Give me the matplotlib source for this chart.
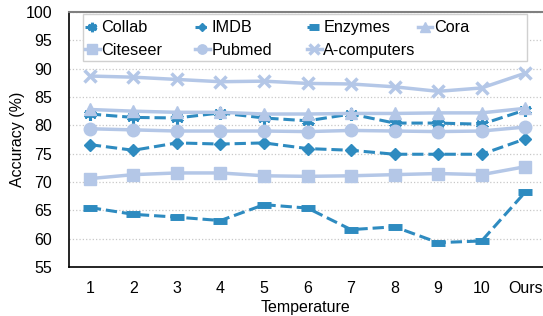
import numpy as np
import matplotlib.pyplot as plt
from matplotlib.legend import Legend
from matplotlib.patches import Rectangle

plt.rcParams['font.family'] = ['Liberation Sans', 'DejaVu Sans']

labels = ['1', '2', '3', '4', '5', '6', '7', '8', '9', '10', 'Ours']

collab = [82.0, 81.4, 81.3, 82.2, 81.3, 80.8, 82.0, 80.4, 80.4, 80.2, 82.7]
imdb = [76.6, 75.6, 76.9, 76.7, 76.9, 75.9, 75.6, 74.9, 74.9, 74.9, 77.6]
enzymes = [65.5, 64.3, 63.8, 63.2, 66.0, 65.4, 61.6, 62.1, 59.3, 59.6, 68.2]
cora = [82.8, 82.5, 82.3, 82.3, 82.0, 82.0, 82.1, 82.1, 82.2, 82.2, 83.0]
citeseer = [70.6, 71.3, 71.6, 71.6, 71.1, 71.0, 71.1, 71.3, 71.5, 71.3, 72.7]
pubmed = [79.4, 79.2, 79.0, 79.0, 79.0, 78.9, 79.1, 79.0, 78.9, 79.0, 79.7]
acomp = [88.7, 88.5, 88.1, 87.7, 87.8, 87.4, 87.3, 86.8, 86.0, 86.6, 89.2]

dark = '#2E8BC0'
light = '#B4C7E7'

fig = plt.figure(figsize=(5.43, 3.16), dpi=100)
ax = fig.add_axes([0.127, 0.155, 0.873, 0.807])
x = np.arange(1, len(labels) + 1)

l_collab, = ax.plot(x, collab, '--', color=dark, lw=2.2, marker=(6, 2, 0), ms=9, mew=2.2, label='Collab')
l_imdb, = ax.plot(x, imdb, '--', color=dark, lw=2.2, marker='D', ms=6, label='IMDB')
l_enz, = ax.plot(x, enzymes, '--', color=dark, lw=2.2, marker='_', ms=10, mew=5, label='Enzymes')
l_cora, = ax.plot(x, cora, '-', color=light, lw=2.5, marker='^', ms=9, label='Cora')
l_cite, = ax.plot(x, citeseer, '-', color=light, lw=2.5, marker='s', ms=9, label='Citeseer')
l_pub, = ax.plot(x, pubmed, '-', color=light, lw=2.5, marker='o', ms=9, label='Pubmed')
l_acomp, = ax.plot(x, acomp, '-', color=light, lw=2.5, marker='x', ms=9, mew=2.5, label='A-computers')

ax.set_xlim(0.52, 11.41)
ax.set_ylim(55, 100)
ax.set_yticks(np.arange(55, 101, 5))
ax.set_xticks(x)
ax.set_xticklabels(labels)
ax.tick_params(length=0, labelsize=11.5)
ax.tick_params(axis='x', pad=10)
ax.tick_params(axis='y', pad=12)
ax.grid(axis='y', linestyle=':', color='#C8C8C8', lw=0.9)
ax.set_axisbelow(True)

ax.spines['right'].set_visible(False)
ax.spines['top'].set_color('#808080')
ax.spines['top'].set_linewidth(1.5)
ax.spines['left'].set_linewidth(1.2)
ax.spines['bottom'].set_linewidth(1.2)

ax.set_xlabel('Temperature', fontsize=11.5, labelpad=3)
ax.set_ylabel('Accuracy (%)', fontsize=11.5, labelpad=0.5)

# legend: 4 fixed-width columns inside one frame
columns = [[l_collab, l_cite], [l_imdb, l_pub], [l_enz, l_acomp], [l_cora]]
col_x = [0.034, 0.266, 0.502, 0.736]
for hs, cx in zip(columns, col_x):
    lg = Legend(ax, hs, [h.get_label() for h in hs], loc='upper left',
                bbox_to_anchor=(cx, 0.967), fontsize=11.7, frameon=False,
                borderpad=0, borderaxespad=0, handlelength=0.9, handletextpad=0.1,
                labelspacing=0.45, markerscale=0.75)
    ax.add_artist(lg)
ax.add_patch(Rectangle((0.030, 0.808), 0.936, 0.184, transform=ax.transAxes,
                       facecolor='white', edgecolor='#D0D0D0', lw=1.0, zorder=4))

plt.savefig('out.png', dpi=100)
